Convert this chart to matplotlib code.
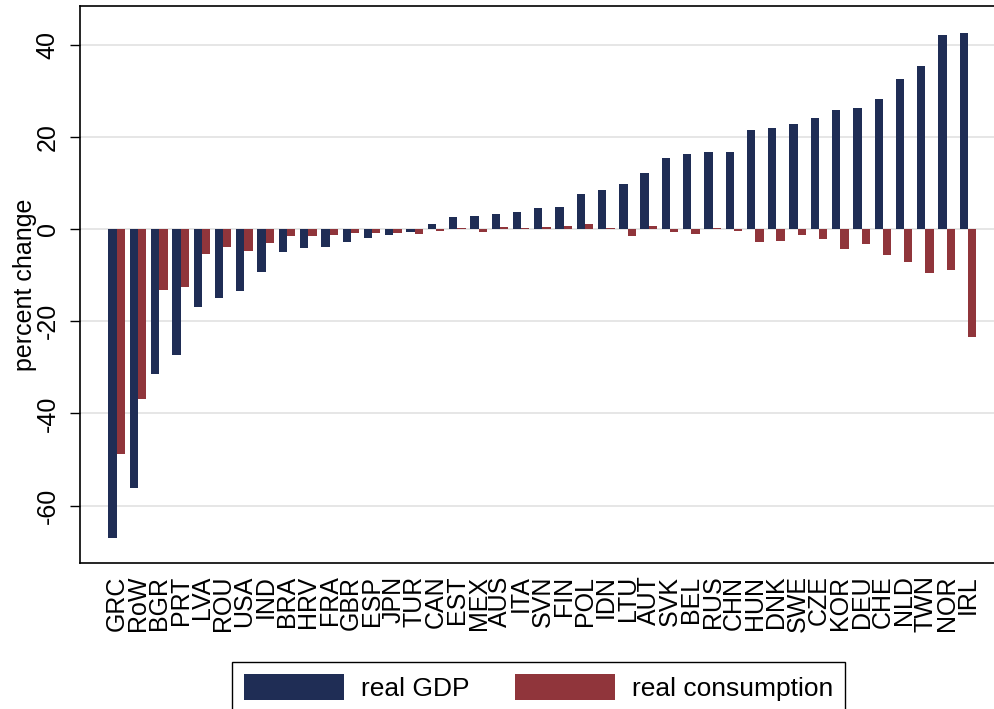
import matplotlib
matplotlib.use("Agg")
import matplotlib.pyplot as plt
import numpy as np

categories = ["GRC", "RoW", "BGR", "PRT", "LVA", "ROU", "USA", "IND", "BRA", "HRV",
              "FRA", "GBR", "ESP", "JPN", "TUR", "CAN", "EST", "MEX", "AUS", "ITA",
              "SVN", "FIN", "POL", "IDN", "LTU", "AUT", "SVK", "BEL", "RUS", "CHN",
              "HUN", "DNK", "SWE", "CZE", "KOR", "DEU", "CHE", "NLD", "TWN", "NOR", "IRL"]

real_gdp = [-67.0, -56.1, -31.5, -27.3, -16.9, -14.9, -13.4, -9.3, -5.0, -4.0,
            -3.9, -2.8, -2.0, -1.2, -0.6, 1.1, 2.7, 2.9, 3.3, 3.8,
            4.5, 4.8, 7.6, 8.5, 9.8, 12.2, 15.4, 16.2, 16.7, 16.7,
            21.5, 22.0, 22.8, 24.2, 25.9, 26.2, 28.3, 32.6, 35.3, 42.2, 42.6]

real_consumption = [-48.8, -36.9, -13.3, -12.5, -5.3, -3.8, -4.7, -3.0, -1.4, -1.5,
                    -1.2, -0.9, -0.9, -0.8, -1.0, -0.4, 0.3, -0.6, 0.4, 0.3,
                    0.4, 0.65, 1.1, 0.3, -1.5, 0.65, -0.6, -1.0, 0.3, -0.4,
                    -2.8, -2.5, -1.3, -2.2, -4.3, -3.2, -5.6, -7.2, -9.5, -8.8, -23.4]

yticks = [-60, -40, -20, 0, 20, 40]
series_labels = ["real GDP", "real consumption"]

plt.rcParams['font.family'] = ['Liberation Sans', 'DejaVu Sans']

W, H = 994, 709
fig = plt.figure(figsize=(W / 100, H / 100), dpi=100)
ax = fig.add_axes([80 / W, (H - 563) / H, (W - 80) / W, (563 - 6) / H])

navy = "#1f2d55"
maroon = "#90353b"
x = np.arange(len(categories))
bw = 0.39
ax.bar(x - bw / 2, real_gdp, width=bw, color=navy, linewidth=0, label=series_labels[0], zorder=3)
ax.bar(x + bw / 2, real_consumption, width=bw, color=maroon, linewidth=0, label=series_labels[1], zorder=3)

ax.set_xlim(-1.725, 41.22)
ax.set_ylim(-72.45, 48.4)

ax.set_yticks(yticks)
ax.set_yticklabels([str(v) for v in yticks], rotation=90, va="center", fontsize=18)
ax.tick_params(axis="y", length=7.5, width=1.0, pad=7, color="black")
ax.yaxis.grid(True, color="#e2e2e2", linewidth=1.2)
ax.set_axisbelow(True)

ax.set_xticks(x)
ax.set_xticklabels(categories, rotation=90, fontsize=18, va="top", ha="center")
ax.tick_params(axis="x", length=0, pad=9)

ax.set_ylabel("percent change", fontsize=18, labelpad=-1)

for s in ["left", "bottom", "top"]:
    ax.spines[s].set_linewidth(1.2)
    ax.spines[s].set_color("black")
ax.spines["right"].set_visible(False)

fig.legend(loc="upper left", bbox_to_anchor=(232 / W, 1 - 662 / H), ncol=2,
           fontsize=19, frameon=True, fancybox=False, edgecolor="black",
           framealpha=1, handlelength=3.8, handleheight=1.15, handletextpad=0.62,
           columnspacing=1.75, borderpad=0.45, borderaxespad=0)

fig.savefig("out.png", dpi=100)
